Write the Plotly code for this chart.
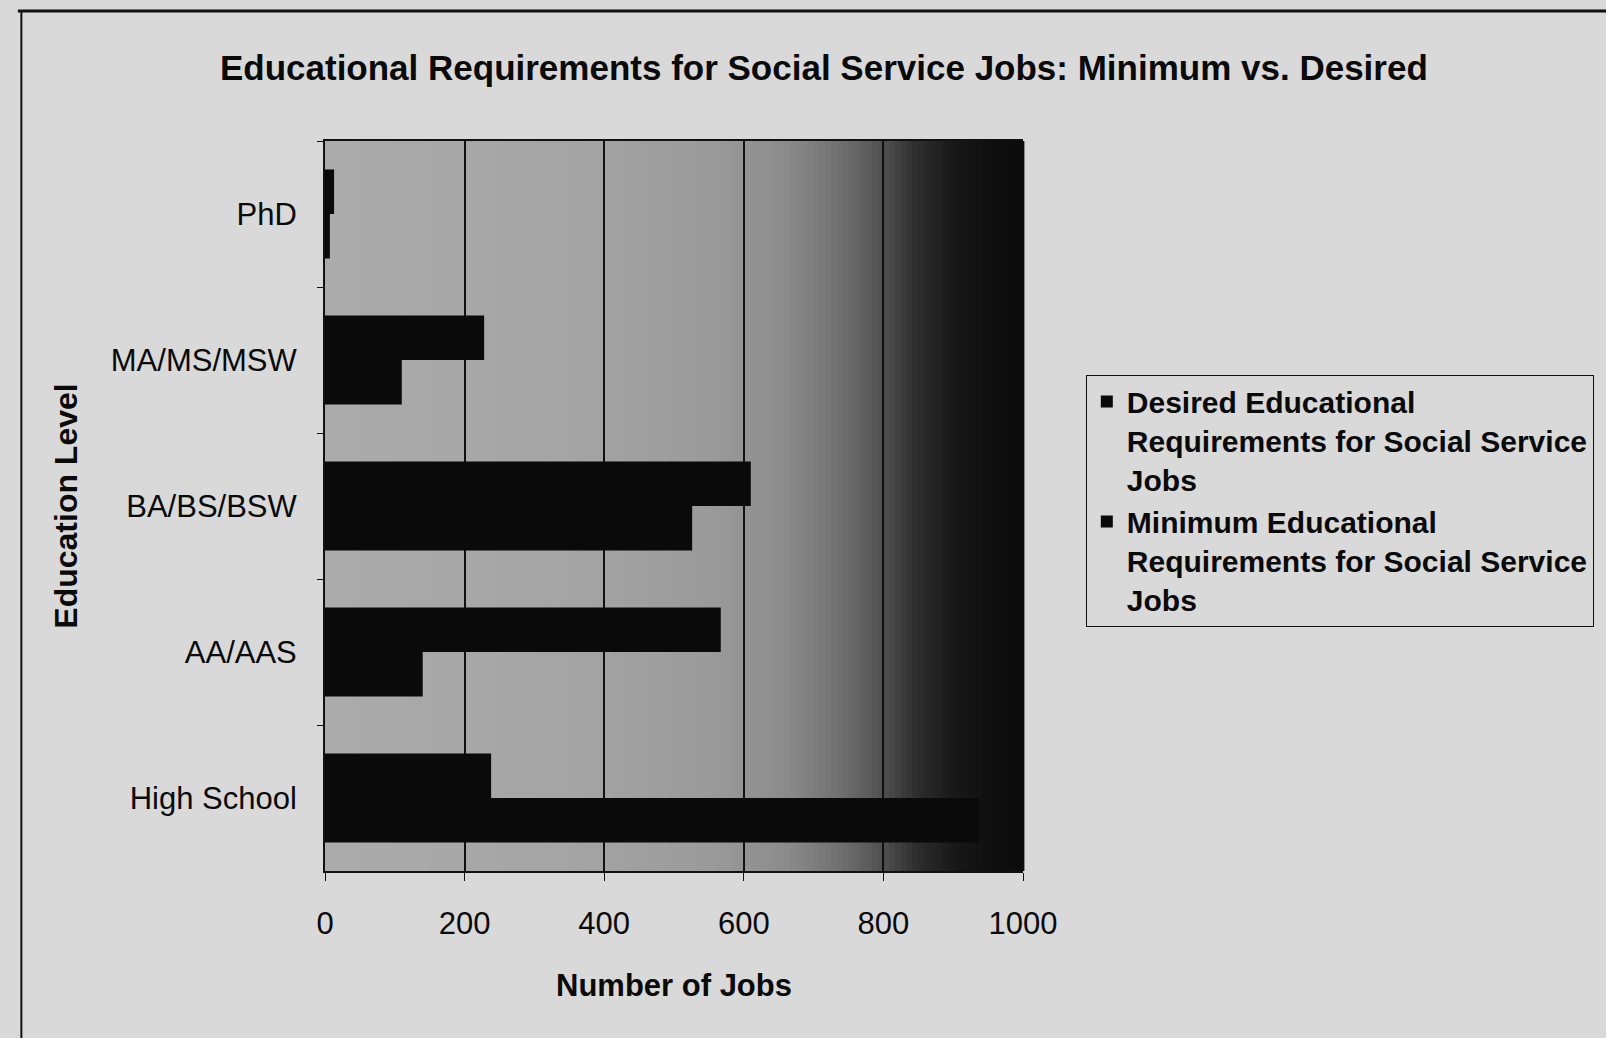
import plotly.graph_objects as go

categories = ["PhD", "MA/MS/MSW", "BA/BS/BSW", "AA/AAS", "High School"]
desired = [13, 228, 610, 567, 238]
minimum = [7, 110, 526, 140, 937]
series_names = [
    "<b>Desired Educational<br>Requirements for Social Service<br>Jobs</b>",
    "<b>Minimum Educational<br>Requirements for Social Service<br>Jobs</b>",
]
x_ticks = [0, 200, 400, 600, 800, 1000]

FONT = "Liberation Sans, Arial, sans-serif"

fig = go.Figure()
fig.add_trace(go.Bar(y=categories, x=desired, orientation="h", name=series_names[0],
                     marker=dict(color="#0a0a0a", line=dict(width=0))))
fig.add_trace(go.Bar(y=categories, x=minimum, orientation="h", name=series_names[1],
                     marker=dict(color="#0a0a0a", line=dict(width=0))))

# gradient background of plot area (decoration)
stops = [(0.0, 172), (0.35, 165), (0.55, 155), (0.66, 140), (0.74, 112),
         (0.80, 80), (0.85, 45), (0.90, 25), (0.95, 16), (1.0, 12)]
shapes = []
n = 120
for i in range(n):
    f0, f1 = i / n, (i + 1) / n
    fm = (f0 + f1) / 2
    for (a, ca), (b, cb) in zip(stops[:-1], stops[1:]):
        if a <= fm <= b:
            c = int(ca + (cb - ca) * (fm - a) / (b - a))
            break
    shapes.append(dict(type="rect", xref="x domain", yref="y domain",
                       x0=f0, x1=f1 + 0.002, y0=0, y1=1, layer="below",
                       line=dict(width=0), fillcolor=f"rgb({c},{c},{c})"))
# photo frame lines
shapes.append(dict(type="line", xref="paper", yref="paper", x0=-0.44, x1=1.9,
                   y0=1.178, y1=1.178, line=dict(color="#111", width=3)))
shapes.append(dict(type="line", xref="paper", yref="paper", x0=-0.435, x1=-0.435,
                   y0=1.178, y1=-0.24, line=dict(color="#111", width=2)))

fig.update_layout(
    width=1606, height=1038,
    margin=dict(l=325, r=576, t=141, b=167),
    paper_bgcolor="#d9d9d9",
    plot_bgcolor="#a9a9a9",
    barmode="group", bargap=0.39, bargroupgap=0,
    shapes=shapes,
    title=dict(text="<b>Educational Requirements for Social Service Jobs: Minimum vs. Desired</b>",
               x=0.513, xanchor="center", y=0.935, yanchor="middle",
               font=dict(family=FONT, size=35, color="#0a0a0a")),
    font=dict(family=FONT, color="#0a0a0a"),
    legend=dict(x=1.09, xanchor="left", y=0.68, yanchor="top",
                bgcolor="rgba(0,0,0,0)", bordercolor="#111", borderwidth=1,
                font=dict(family=FONT, size=30, color="#0a0a0a"),
                itemwidth=30, traceorder="normal", tracegroupgap=2, valign="top"),
    xaxis=dict(range=[0, 1000], tickvals=x_ticks, ticktext=[str(v) for v in x_ticks],
               showgrid=True, gridcolor="#111", gridwidth=2,
               showline=True, linecolor="#111", linewidth=2, mirror=True,
               ticks="outside", ticklen=8, tickcolor="#111",
               tickfont=dict(size=31, family=FONT), zeroline=False,
               ticklabelstandoff=16,
               title=dict(text="<b>Number of Jobs</b>", font=dict(size=31, family=FONT), standoff=34)),
    yaxis=dict(autorange="reversed", type="category",
               showline=True, linecolor="#111", linewidth=2,
               ticks="outside", tickson="boundaries", ticklen=6, tickcolor="#111",
               tickfont=dict(size=31, family=FONT), showgrid=False,
               ticklabelstandoff=20,
               title=dict(text="<b>Education Level</b>", font=dict(size=32, family=FONT), standoff=24)),
)

fig.write_html("out.html")
